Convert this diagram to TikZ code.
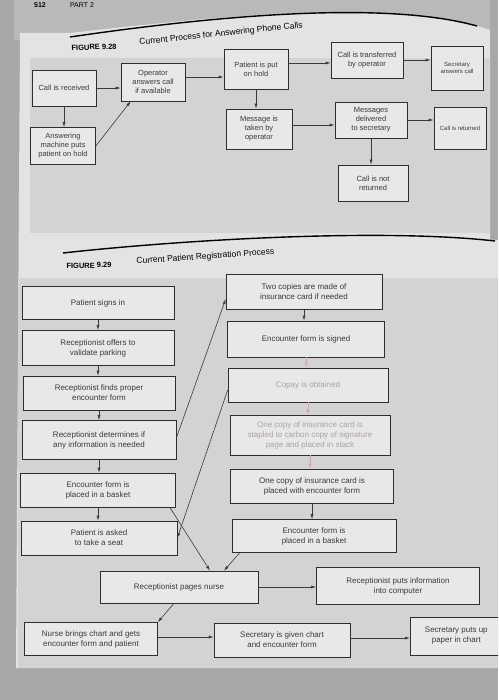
\documentclass[tikz,border=0pt]{standalone}
\usepackage{fontspec}
\setmainfont{Liberation Sans}
\usepackage{xcolor}
\usetikzlibrary{arrows.meta}

\definecolor{outgray}{HTML}{A8A8A6}
\definecolor{topgray}{HTML}{B9B9B7}
\definecolor{pagegray}{HTML}{E3E3E1}
\definecolor{panelgray}{HTML}{D3D3D1}
\definecolor{boxfill}{HTML}{E8E8E6}
\definecolor{boxline}{HTML}{2E2E2E}
\definecolor{ink}{HTML}{3A3A3A}
\definecolor{fadeink}{HTML}{ABA2A4}
\definecolor{fadearrow}{HTML}{D6A2AC}

\begin{document}
\begin{tikzpicture}[x=1pt, y=-1pt,
        sz/.style 2 args={minimum width=#1pt, minimum height=#2pt},
        procbox/.style={draw=boxline, fill=boxfill, align=center, inner sep=1pt, text=ink, line width=0.6pt},
        callbox/.style={procbox, font=\fontsize{7.5}{9}\selectfont},
        regbox/.style={procbox, font=\fontsize{8}{10}\selectfont},
        flow/.style={draw=ink, line width=0.6pt, -{Latex[length=5pt,width=3pt]}},
        fadeflow/.style={flow, draw=fadearrow}]
        \useasboundingbox (0,0) rectangle (498,700);
        \clip (0,0) rectangle (498,700);
        % page and panels
        \fill[outgray] (0,0) rectangle (498,700);
        \fill[topgray] (14,0) rectangle (490,40);
        \fill[pagegray] (20,33) -- (70,33) .. controls (200,18) and (380,-1) .. (477,26) -- (490,30)
            -- (490,240) -- (498,240) -- (498,668) -- (16,668) -- cycle;
        \fill[panelgray] (30,58) rectangle (490,233);
        \fill[panelgray] (18,278) rectangle (498,668);
        \node[font=\bfseries\fontsize{7}{8}\selectfont, text=black] (pnum) at (40,5) {512};
        \node[font=\fontsize{7}{8}\selectfont, text=black] (part) at (82,5) {PART 2};

        % Figure 9.28
        \draw[line width=1.4pt] (70,37) .. controls (200,18) and (380,-1) .. (477,26);
        \node[font=\bfseries\fontsize{7.5}{9}\selectfont, anchor=west, rotate=2] (fig1) at (68,48) {FIGURE 9.28};
        \node[font=\fontsize{8.5}{10}\selectfont, anchor=west, rotate=6] (title1) at (136,43) {Current Process for Answering Phone Calls};

        \node[callbox, sz={64}{36}] (rec) at (64,88) {Call is received};
        \node[callbox, sz={65}{37}] (ans) at (63,146) {Answering\\machine puts\\patient on hold};
        \node[callbox, sz={64}{38}] (opr) at (153,82) {Operator\\answers call\\if available};
        \node[callbox, sz={64}{40}] (hold) at (256,69) {Patient is put\\on hold};
        \node[callbox, sz={66}{40}] (msg) at (259,129) {Message is\\taken by\\operator};
        \node[callbox, sz={72}{36}] (trans) at (367,60) {Call is transferred\\by operator};
        \node[callbox, sz={72}{36}] (deliv) at (371,120) {Messages\\delivered\\to secretary};
        \node[callbox, sz={70}{36}] (notret) at (373,183) {Call is not\\returned};
        \node[callbox, sz={52}{44}, font=\fontsize{6}{7}\selectfont] (secans) at (457,68) {Secretary\\answers call};
        \node[callbox, sz={52}{42}, font=\fontsize{6}{7}\selectfont] (ret) at (460,128) {Call is returned};

        \draw[flow] (rec.east) -- (rec.east -| opr.west);
        \draw[flow] (rec.south) -- (rec.south |- ans.north);
        \draw[flow] (ans.east) -- ([xshift=10pt]opr.south west);
        \draw[flow] ([yshift=5pt]opr.east) -- ([yshift=5pt]opr.east -| hold.west);
        \draw[flow] ([yshift=6pt]hold.east) -- ([yshift=6pt]hold.east -| trans.west);
        \draw[flow] (trans.east) -- (trans.east -| secans.west);
        \draw[flow] (hold.south) -- (hold.south |- msg.north);
        \draw[flow] ([yshift=4pt]msg.east) -- ([yshift=4pt]msg.east -| deliv.west);
        \draw[flow] (deliv.east) -- (deliv.east -| ret.west);
        \draw[flow] (deliv.south) -- (deliv.south |- notret.north);

        % Figure 9.29
        \draw[line width=1.4pt] (63,253) .. controls (180,240) and (380,228) .. (495,241);
        \node[font=\bfseries\fontsize{7.5}{9}\selectfont, anchor=west, rotate=1] (fig2) at (63,266) {FIGURE 9.29};
        \node[font=\fontsize{8.5}{10}\selectfont, anchor=west, rotate=4] (title2) at (133,262) {Current Patient Registration Process};

        \node[regbox, sz={152}{33}] (signs) at (98,303) {Patient signs in};
        \node[regbox, sz={152}{35}] (park) at (98,348) {Receptionist offers to\\validate parking};
        \node[regbox, sz={152}{34}] (finds) at (99,393) {Receptionist finds proper\\encounter form};
        \node[regbox, sz={154}{39}] (determ) at (99,440) {Receptionist determines if\\any information is needed};
        \node[regbox, sz={155}{34}] (basketL) at (98,490) {Encounter form is\\placed in a basket};
        \node[regbox, sz={156}{34}] (seat) at (99,538) {Patient is asked\\to take a seat};

        \node[regbox, sz={156}{35}] (copies) at (304,292) {Two copies are made of\\insurance card if needed};
        \node[regbox, sz={157}{36}] (signed) at (306,339) {Encounter form is signed};
        \node[regbox, sz={160}{34}, text=fadeink] (copay) at (308,385) {Copay is obtained};
        \node[regbox, sz={160}{40}, text=fadeink] (stapled) at (310,435) {One copy of insurance card is\\stapled to carbon copy of signature\\page and placed in stack};
        \node[regbox, sz={163}{34}] (placed) at (312,486) {One copy of insurance card is\\placed with encounter form};
        \node[regbox, sz={164}{33}] (basketR) at (314,536) {Encounter form is\\placed in a basket};

        \node[regbox, sz={158}{32}] (pages) at (179,587) {Receptionist pages nurse};
        \node[regbox, sz={163}{37}] (comp) at (398,586) {Receptionist puts information\\into computer};
        \node[regbox, sz={133}{33}] (nurse) at (91,639) {Nurse brings chart and gets\\encounter form and patient};
        \node[regbox, sz={136}{34}] (secgiv) at (282,640) {Secretary is given chart\\and encounter form};
        \node[regbox, sz={92}{38}, anchor=west] (secput) at (410,636) {Secretary puts up\\paper in chart};

        \draw[flow] (signs.south) -- (signs.south |- park.north);
        \draw[flow] (park.south) -- (park.south |- finds.north);
        \draw[flow] (finds.south) -- (finds.south |- determ.north);
        \draw[flow] (determ.south) -- (determ.south |- basketL.north);
        \draw[flow] (basketL.south) -- (basketL.south |- seat.north);
        \draw[flow] ([yshift=2pt]determ.east) -- ([yshift=-7pt]copies.west);
        \draw[flow] ([yshift=-5pt]copay.west) -- (seat.east);
        \draw[flow] ([xshift=-6pt]basketL.south east) -- ([xshift=31pt]pages.north);
        \draw[flow] ([xshift=8pt]basketR.south west) -- ([xshift=45pt]pages.north);

        \draw[flow] (copies.south) -- (copies.south |- signed.north);
        \draw[fadeflow] (signed.south) -- (signed.south |- copay.north);
        \draw[fadeflow] (copay.south) -- (copay.south |- stapled.north);
        \draw[fadeflow] (stapled.south) -- (stapled.south |- placed.north);
        \draw[flow] (placed.south) -- (placed.south |- basketR.north);

        \draw[flow] (pages.east) -- (pages.east -| comp.west);
        \draw[flow] ([xshift=-5pt]pages.south) -- (nurse.north east);
        \draw[flow] ([yshift=2pt]nurse.east) -- ([yshift=2pt]nurse.east -| secgiv.west);
        \draw[flow] ([yshift=2pt]secgiv.east) -- ([yshift=2pt]secgiv.east -| secput.west);
    \end{tikzpicture}
\end{document}
